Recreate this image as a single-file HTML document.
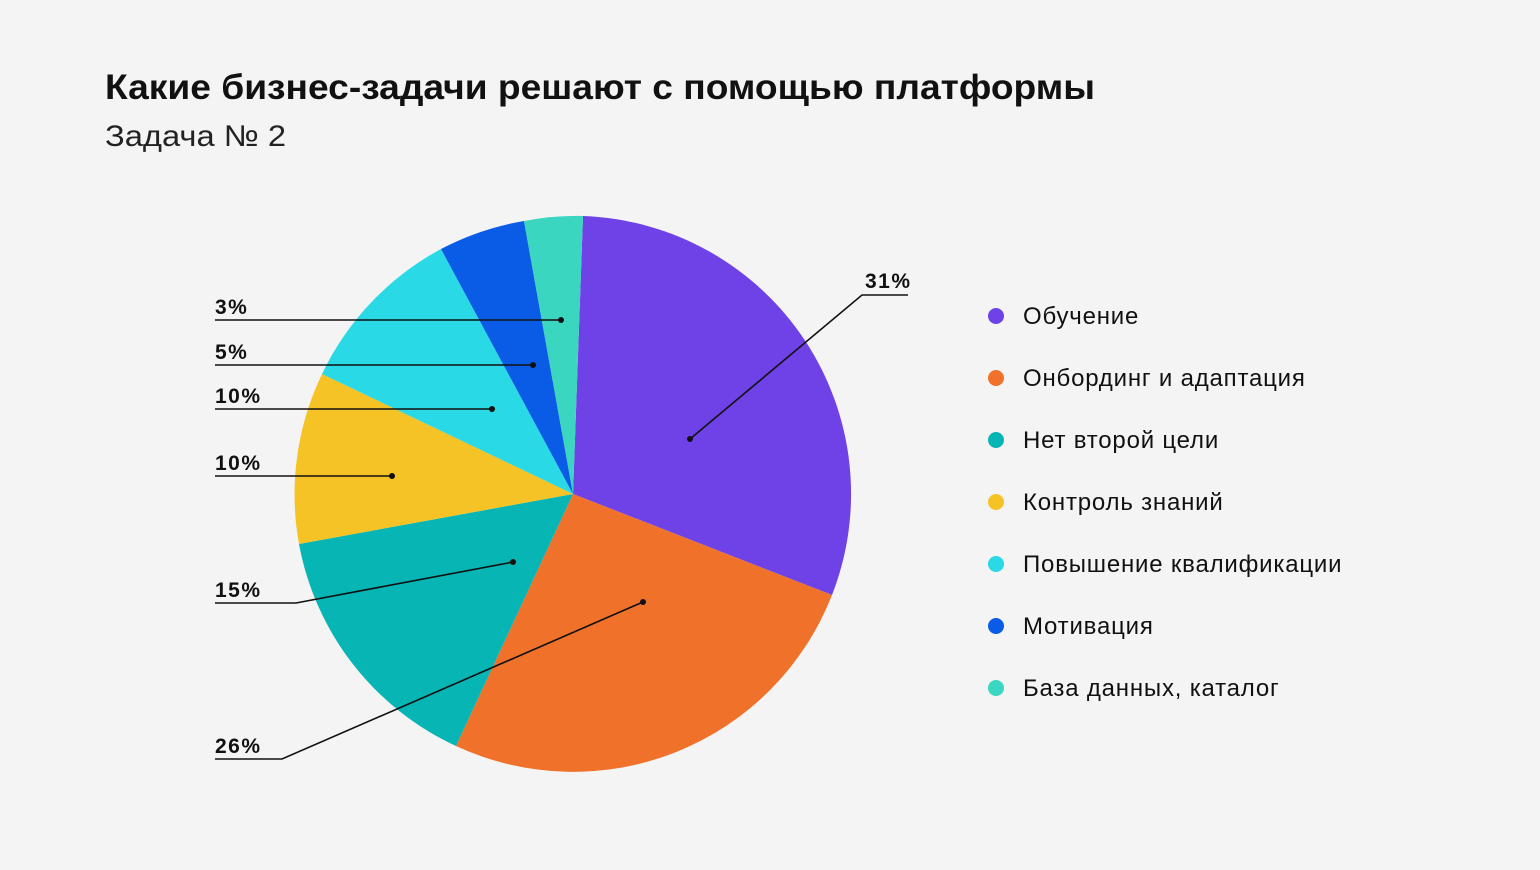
<!DOCTYPE html>
<html><head><meta charset="utf-8"><style>
html,body{margin:0;padding:0;background:#f4f4f4;}
body{width:1540px;height:865px;overflow:hidden;font-family:"Liberation Sans",sans-serif;}
</style></head><body>
<svg width="1540" height="865" xmlns="http://www.w3.org/2000/svg" font-family="Liberation Sans, sans-serif">
<rect width="1540" height="865" fill="#f4f4f4"/>
<text x="105" y="99" font-size="35" font-weight="bold" fill="#111" textLength="990" lengthAdjust="spacingAndGlyphs">Какие бизнес-задачи решают с помощью платформы</text>
<text x="105" y="146" font-size="30" fill="#222" textLength="181" lengthAdjust="spacingAndGlyphs">Задача № 2</text>
<g stroke="none">
<path d="M573,494 L583,216 A278,278 0 0 1 832,595 Z" fill="#6f42e8"/>
<path d="M573,494 L832,595 A278,278 0 0 1 456,746 Z" fill="#ef712a"/>
<path d="M573,494 L456,746 A278,278 0 0 1 299,544 Z" fill="#08b5b5"/>
<path d="M573,494 L299,544 A278,278 0 0 1 322,374 Z" fill="#f5c325"/>
<path d="M573,494 L322,374 A278,278 0 0 1 441,249 Z" fill="#29d9e6"/>
<path d="M573,494 L441,249 A278,278 0 0 1 524,221 Z" fill="#0a5ce6"/>
<path d="M573,494 L524,221 A278,278 0 0 1 583,216 Z" fill="#3bd6c0"/>
</g>
<g stroke="#111" stroke-width="1.6" fill="none">
<polyline points="908,295 862,295 690,439"/>
<line x1="215" y1="320" x2="561" y2="320"/>
<line x1="215" y1="365" x2="533" y2="365"/>
<line x1="215" y1="409" x2="492" y2="409"/>
<line x1="215" y1="476" x2="392" y2="476"/>
<polyline points="215,603 296,603 513,562"/>
<polyline points="215,759 282,759 643,602"/>
</g>
<g fill="#111">
<circle cx="690" cy="439" r="3"/><circle cx="561" cy="320" r="3"/><circle cx="533" cy="365" r="3"/>
<circle cx="492" cy="409" r="3"/><circle cx="392" cy="476" r="3"/><circle cx="513" cy="562" r="3"/><circle cx="643" cy="602" r="3"/>
</g>
<g font-size="21" font-weight="bold" fill="#111" letter-spacing="1.5">
<text x="865" y="288">31%</text>
<text x="215" y="314">3%</text>
<text x="215" y="359">5%</text>
<text x="215" y="403">10%</text>
<text x="215" y="470">10%</text>
<text x="215" y="597">15%</text>
<text x="215" y="753">26%</text>
</g>
<g font-size="24" fill="#111" letter-spacing="0.8">
<circle cx="996" cy="316" r="8" fill="#6f42e8"/><text x="1023" y="324">Обучение</text>
<circle cx="996" cy="378" r="8" fill="#ef712a"/><text x="1023" y="386">Онбординг и адаптация</text>
<circle cx="996" cy="440" r="8" fill="#08b5b5"/><text x="1023" y="448">Нет второй цели</text>
<circle cx="996" cy="502" r="8" fill="#f5c325"/><text x="1023" y="510">Контроль знаний</text>
<circle cx="996" cy="564" r="8" fill="#29d9e6"/><text x="1023" y="572">Повышение квалификации</text>
<circle cx="996" cy="626" r="8" fill="#0a5ce6"/><text x="1023" y="634">Мотивация</text>
<circle cx="996" cy="688" r="8" fill="#3bd6c0"/><text x="1023" y="696">База данных, каталог</text>
</g>
</svg>
</body></html>
